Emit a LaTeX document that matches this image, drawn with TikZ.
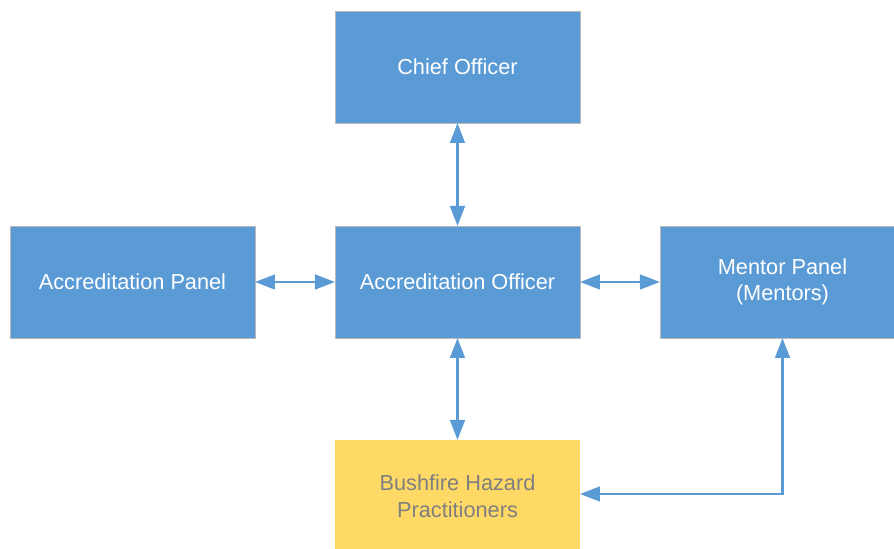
\documentclass[tikz,border=0pt]{standalone}
\usepackage{fontspec}
\setmainfont{Liberation Sans}
\usetikzlibrary{positioning, arrows.meta}
\definecolor{boxblue}{HTML}{5B9BD5}
\definecolor{boxyellow}{HTML}{FFD966}
\definecolor{textgray}{HTML}{7F7F7F}
\tikzset{
	role/.style={draw=gray!55, line width=0.6pt, rectangle, fill=boxblue, text=white, align=center, outer sep=0pt,
		minimum width=183.75pt, minimum height=84pt, font=\fontsize{16.3}{20}\selectfont},
	group/.style={rectangle, fill=boxyellow, text=textgray, align=center, outer sep=0pt,
		minimum width=183.75pt, minimum height=84pt, font=\fontsize{16.3}{20}\selectfont},
	link/.style={draw=boxblue, line width=1.9pt, {Triangle[length=15pt, width=11pt]}-{Triangle[length=15pt, width=11pt]}},
}

\begin{document}
\begin{tikzpicture}
	% frame of the page, officer sits at the origin
	\useasboundingbox (-343.125pt,-200.25pt) rectangle (327.375pt,211.5pt);
	
	\node (officer) [role] at (0,0) {Accreditation Officer};
	\node (chief) [role, above=77.25pt of officer] {Chief Officer};
	\node (panel) [role, left=60pt of officer] {Accreditation Panel};
	\node (mentor) [role, right=60pt of officer] {Mentor Panel\\(Mentors)};
	\node (bushfire) [group, below=76.5pt of officer] {Bushfire Hazard\\Practitioners};
	
	\draw [link] (chief) -- (officer);
	\draw [link] (panel) -- (officer);
	\draw [link] (officer) -- (mentor);
	\draw [link] (officer) -- (bushfire);
	\draw [link] ([yshift=1.5pt]bushfire.east) -| (mentor.south);
\end{tikzpicture}
\end{document}
